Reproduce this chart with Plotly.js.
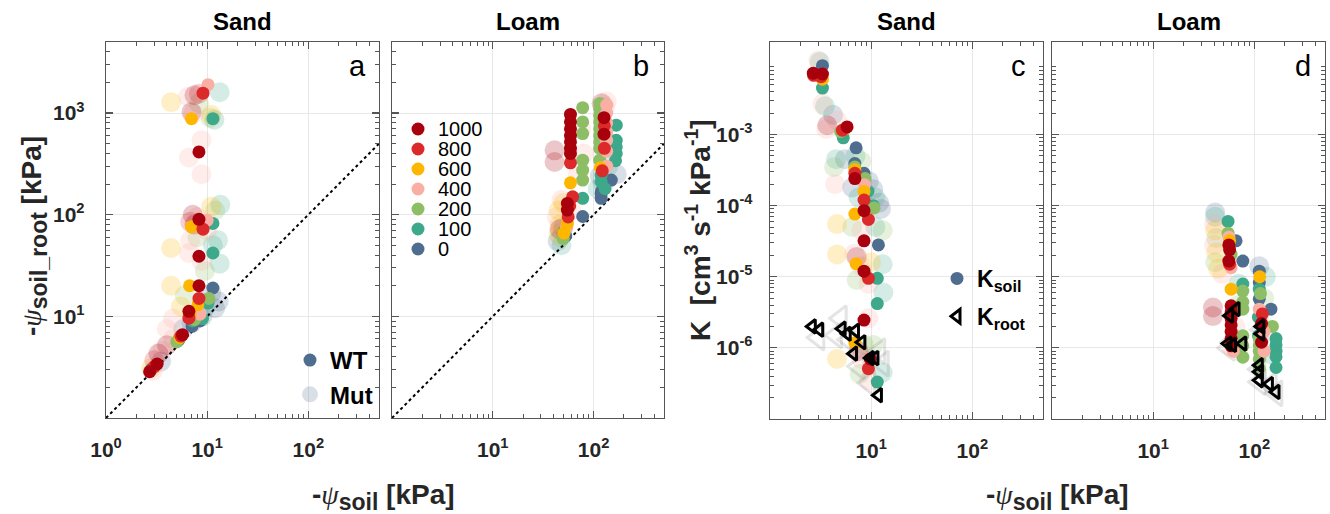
<!DOCTYPE html>
<html><head><meta charset="utf-8">
<script src="https://cdn.plot.ly/plotly-3.0.1.min.js"></script>
<style>html,body{margin:0;padding:0;background:#fff}#chart{width:1330px;height:514px}</style>
</head><body><div id="chart"></div>
<script>
// ---------- categories / colours ----------
const levels = [0, 100, 200, 400, 600, 800, 1000];
const levelColors = ['#4F6D8F', '#3DA88A', '#8DBE66', '#F9AFA3', '#FFB600', '#DC2A2A', '#A8000C'];
const legendOrder = [1000, 800, 600, 400, 200, 100, 0];
const panelTitles = ['Sand', 'Loam', 'Sand', 'Loam'];
const panelLetters = ['a', 'b', 'c', 'd'];

// ---------- tick labels ----------
const xTickValsA = [1, 10, 100];
const xTickTextA = ['10<sup>0</sup>', '10<sup>1</sup>', '10<sup>2</sup>'];
const xTickValsB = [10, 100];
const xTickTextB = ['10<sup>1</sup>', '10<sup>2</sup>'];
const yTickValsPsi = [10, 100, 1000];
const yTickTextPsi = ['10<sup>1</sup>', '10<sup>2</sup>', '10<sup>3</sup>'];
const yTickValsK = [1e-6, 1e-5, 1e-4, 1e-3];
const yTickTextK = ['10<sup>-6</sup>', '10<sup>-5</sup>', '10<sup>-4</sup>', '10<sup>-3</sup>'];

// 1:1 line
const diagX = [1, 500];
const diagY = [1, 500];

// ---------- panel a : Sand, psi_soil_root vs psi_soil ----------
const aWT_x = [9.1,10.2,7.0,11.4,8.3, 8.3,7.0,11.4,9.1,10.0, 8.3,11.4, 6.7,8.3,11.4,10.4,8.3,8.1,10.2,6.6,6.6,7.5,7.1,6.8,7.2,8.5,9.0,8.5, 5.7,5.5,5.4,5.3,5.2,5.0, 3.2,2.7,3.0,2.8];
const aWT_y = [1570,1900,880,880,415, 90,76,82,72,88, 39,42, 20,20,19,15,15,13,13.5,11.2,9.6,9.3,8.0,10.5,9.0,10.5,9.5,9.0, 6.6,6.4,6.2,6.0,5.8,5.6, 3.4,2.85,3.2,3.0];
const aWT_lv = [800,400,600,100,1000, 1000,600,100,800,400, 1000,100, 600,1000,0,200,800,600,100,1000,800,200,0,600,100,400,100,0, 1000,800,600,100,0,200, 1000,1000,800,0];
const aMut_x = [7.5,8.3,6.5,13.3,4.4,8.3,7.0,7.3,11,10.8,11.8,8.8,6.6,8.8, 7.2,6.8,7.5,12,13.5,11,8,8,10, 4.4,12.8,6.8,11.4,8.8,13.3,9.5,6.6, 4.4,6.0,5.5,11,13,12,9.5,4.6,4.0, 4.0,3.6,3.3,3.0,4.6,2.8,5.8,7,9,3.5,2.9];
const aMut_y = [1500,1550,1450,1600,1280,1250,1020,980,960,900,860,540,365,250, 100,85,80,110,125,120,95,60,70, 47,56,56,50,35,33,28,42, 20,16,12.5,17,14,12,12,9.5,7.5, 5.2,4.6,4.3,3.7,6.0,3.1,7.5,8.5,10,3.6,2.9];
const aMut_lv = [1000,800,400,100,600,200,1000,400,600,200,100,400,400,400, 1000,800,1000,200,100,600,400,200,400, 600,100,400,100,400,100,200,400, 600,200,600,0,0,0,100,400,400, 1000,400,1000,800,400,600,0,0,0,0,400];

// ---------- panel b : Loam ----------
const bWT_x = [59,59,59,59,59,59,59, 59,59, 78,78,78,78,78,78, 78,78, 55,55,62,55,58,56,52,53,50,54,51, 115,115,115,115,115,115,115,115,115, 135,135,135,135,135,135,135, 127,127,128,128, 168,168,168,168,165, 119,119,130, 150,119,119,120, 117,122];
const bWT_y = [970,820,700,600,520,450,400, 324,206, 1130,817,628,344,274,219, 145,96, 129,111,150,82,122,95,70,62,58,75,66, 1245,1100,950,820,700,600,520,450,344, 1200,1000,800,650,540,420,300, 900,620,750,450, 760,540,464,400,340, 245,210,180, 219,162,145,170, 290,270];
const bWT_lv = [1000,1000,1000,1000,1000,1000,1000, 800,600, 200,200,200,200,200,200, 100,0, 1000,1000,800,600,800,800,100,0,200,400,600, 200,200,200,200,200,200,200,200,200, 400,400,400,400,400,400,400, 1000,1000,800,800, 100,100,100,100,100, 100,100,100, 0,0,0,0, 600,800];
const bMut_x = [41,41,135,130,120, 48,45,50,43,46,45,44,48,47,46,50, 115,125,110,140,150,170, 60,70,80,75];
const bMut_y = [430,330,1300,1150,1250, 140,110,130,95,80,65,55,50,60,72,75, 240,200,180,300,500,250, 110,250,400,700];
const bMut_lv = [1000,1000,400,400,1000, 400,600,600,400,600,600,0,100,200,1000,0, 0,0,100,100,100,0, 400,400,400,400];

// ---------- panel c : Sand, K ----------
const cWT_x = [3.3,2.68,3.3,3.3,2.7,3.2,3.3, 5.78,5.2,5.3,5.5,5.0, 7.1,6.9,6.9,6.9,6.9,6.9, 8.5,8.7,8.6,8.5,9.3,8.5,10.7,10.5,8.5,6.9,9.4, 8.5,11.8,7.1,8.5,9.4,11.5,11.5, 8.5,6.9,9.8,9.4,11.5];
const cWT_y = [9.3e-3,7.3e-3,7.1e-3,6.0e-3,6.8e-3,6.5e-3,4.5e-3, 1.28e-3,1.15e-3,9e-4,1.2e-3,1.1e-3, 6.5e-4,3.9e-4,3.5e-4,3.2e-4,2.85e-4,2.4e-4, 2.85e-4,2.4e-4,1.96e-4,1.58e-4,1.6e-4,1.2e-4,9.3e-5,1.0e-4,8.5e-5,7.6e-5,6.4e-5, 3.2e-5,2.8e-5,1.53e-5,1.2e-5,9.5e-6,9.5e-6,4.2e-6, 2.46e-6,1.17e-6,7e-7,5.1e-7,3.3e-7];
const cWT_lv = [0,1000,1000,600,800,800,100, 1000,800,100,600,200, 0,0,200,600,800,1000, 0,200,400,600,100,800,200,100,1000,600,800, 1000,0,600,1000,800,100,100, 1000,600,1000,800,100];
const cMut_x = [3.0,3.1,3.3,3.5,3.68,3.6,4.6,4.2, 4.5,4.3,4.4,5.5,7,8,9.5,10.5,11,12,12.5,7.5,6.5,4.6,6.5,8,11,13, 4.6,7.2,6.8,8,10,13,7.2,9.4,13.2,9.4, 4.6,7.7,8.5,10.5,8,13,9.5,7.5];
const cMut_y = [1.1e-2,1.05e-2,2.7e-3,2.5e-3,1.35e-3,1.2e-3,1.58e-3,1.9e-3, 4.5e-4,3.5e-4,2.0e-4,4.5e-4,5e-4,4.2e-4,2.2e-4,1.7e-4,1.3e-4,1.1e-4,9e-5,1.3e-4,1.8e-4,5.5e-5,5e-5,4.5e-5,5e-5,4.5e-5, 2.06e-5,1.9e-5,2.1e-5,1.4e-5,1.6e-5,1.5e-5,9e-6,8e-6,6e-6,2.6e-6, 7e-7,4.3e-7,1.1e-6,1.1e-6,7e-7,4.5e-7,3.5e-7,9e-7];
const cMut_lv = [400,100,400,100,1000,400,400,0, 100,200,400,0,100,200,0,0,100,0,0,100,0,600,200,400,100,200, 600,1000,400,400,600,100,200,400,100,400, 600,200,200,200,400,100,400,1000];
const cRootWT_x = [2.62,3.1,5.16,5.8,7.0,8.1,6.7,9.8,10.9,11.8];
const cRootWT_y = [2.0e-6,1.8e-6,1.86e-6,1.58e-6,1.74e-6,1.2e-6,8.3e-7,7.2e-7,7.2e-7,2.16e-7];
const cRootMut_x = [3.0,5.0,6.0,7.5,12,13,9.5,4.5];
const cRootMut_y = [1.4e-6,2.6e-6,1.3e-6,5.5e-7,9e-7,6e-7,3.2e-7,1.5e-6];

// ---------- panel d : Loam, K ----------
const dWT_x = [55,55,56,57,56,57,59,56,59,57,66,77,77,77,59,77,77, 59,59,59,59,59,59,59, 77,77,77,62, 112,112,112,112,115,113,112,146,110,110, 112,112,112,112,112, 151, 164,164,164,164,164, 118,120,125,125,118];
const dWT_y = [6.0e-5,4.1e-5,3.6e-5,3.2e-5,2.8e-5,2.4e-5,2.06e-5,1.66e-5,1.34e-5,1.5e-5,3.2e-5,1.66e-5,7.9e-6,6.3e-6,6.7e-6,4.4e-6,3.5e-6, 3.9e-6,3.2e-6,2.6e-6,2.1e-6,1.7e-6,1.35e-6,1.07e-6, 1.48e-6,1.07e-6,7.4e-7,9e-7, 1.2e-5,8.3e-6,4.9e-6,6.7e-6,5.8e-6,1e-5,3.5e-6,3.5e-6,2.7e-6,1.48e-6, 1.35e-6,1.1e-6,9e-7,7e-7,5.1e-7, 2.0e-6, 1.35e-6,1.1e-6,9e-7,7.5e-7,5.3e-7, 2.2e-6,3e-6,1.7e-6,9e-7,1.2e-6];
const dWT_lv = [100,200,400,600,1000,1000,200,1000,400,800,0,0,100,200,600,200,200, 1000,1000,1000,1000,1000,1000,1000, 200,200,200,400, 0,0,0,100,200,600,400,0,100,100, 200,200,200,200,200, 200, 100,100,100,100,100, 1000,800,400,400,1000];
const dMut_x = [39,39,41,41,40,41,42,40,42,41,44,48,112,130,125,70,65,60,120,150,70];
const dMut_y = [3.7e-6,2.8e-6,8e-5,7e-5,5.5e-5,4.5e-5,3.5e-5,2.8e-5,2.2e-5,1.6e-5,1.3e-5,1.1e-5,1.4e-5,1e-5,5e-6,8e-6,2e-6,1e-6,1.5e-6,8e-7,4e-6];
const dMut_lv = [1000,1000,0,100,400,600,200,400,600,200,600,400,0,100,200,100,400,400,400,100,200];
const dRootWT_x = [66,57,55,61,77,116,116,112,112,112,141,164];
const dRootWT_y = [3.5e-6,2.84e-6,1.15e-6,1.1e-6,1.15e-6,2.0e-6,1.58e-6,5.7e-7,4.6e-7,3.5e-7,3.1e-7,2.4e-7];
const dRootMut_x = [56,60,112,113,145,165,118];
const dRootMut_y = [1.0e-6,1.2e-6,5e-7,3.3e-7,3e-7,2.3e-7,1.8e-6];

// ================= build =================
const W = 1330, H = 514;
const px = v => v / W, py = v => 1 - v / H;
const FONT = 'Liberation Sans, Arial, Helvetica, sans-serif';
const INK = '#262626';

function levelTraces(xs, ys, lvs, xa, ya, mut, legendSpec) {
  return levels.map((lv, i) => {
    const idx = [];
    lvs.forEach((v, k) => { if (v === lv) idx.push(k); });
    const t = {
      type: 'scatter', mode: 'markers',
      x: idx.map(k => xs[k]), y: idx.map(k => ys[k]),
      xaxis: xa, yaxis: ya, hoverinfo: 'skip', showlegend: false,
      marker: { size: mut ? 20 : 13, color: levelColors[i], opacity: mut ? 0.22 : 1, line: { width: 0 } }
    };
    if (legendSpec && lv === 0) Object.assign(t, legendSpec, { showlegend: true });
    return t;
  });
}
function rootTraces(xs, ys, xa, ya, mut, legendSpec) {
  const t = {
    type: 'scatter', mode: 'markers', x: xs, y: ys, xaxis: xa, yaxis: ya,
    hoverinfo: 'skip', showlegend: false,
    marker: mut ? { symbol: 'triangle-left-open', size: 22, color: 'rgba(130,130,130,0.22)', line: { width: 3, color: 'rgba(130,130,130,0.22)' } }
                : { symbol: 'triangle-left-open', size: 12, color: '#000', line: { width: 3, color: '#000' } }
  };
  if (legendSpec) Object.assign(t, legendSpec, { showlegend: true });
  return t;
}
const diag = (xa, ya) => ({ type: 'scatter', mode: 'lines', x: diagX, y: diagY, xaxis: xa, yaxis: ya,
  hoverinfo: 'skip', showlegend: false, line: { color: '#000', width: 2, dash: 'dot' } });

const data = [].concat(
  levelTraces(aMut_x, aMut_y, aMut_lv, 'x', 'y', true, { name: 'Mut', legend: 'legend2' }),
  [diag('x', 'y')],
  levelTraces(aWT_x, aWT_y, aWT_lv, 'x', 'y', false, { name: 'WT', legend: 'legend2' }),
  levelTraces(bMut_x, bMut_y, bMut_lv, 'x2', 'y2', true),
  [diag('x2', 'y2')],
  levelTraces(bWT_x, bWT_y, bWT_lv, 'x2', 'y2', false),
  levelTraces(cMut_x, cMut_y, cMut_lv, 'x3', 'y3', true),
  [rootTraces(cRootMut_x, cRootMut_y, 'x3', 'y3', true)],
  levelTraces(cWT_x, cWT_y, cWT_lv, 'x3', 'y3', false, { name: '<b>K<sub>soil</sub></b>', legend: 'legend3', legendgroup: 'ks' }),
  [rootTraces(cRootWT_x, cRootWT_y, 'x3', 'y3', false, { name: '<b>K<sub>root</sub></b>', legend: 'legend3', legendgroup: 'kr' })],
  levelTraces(dMut_x, dMut_y, dMut_lv, 'x4', 'y4', true),
  [rootTraces(dRootMut_x, dRootMut_y, 'x4', 'y4', true)],
  levelTraces(dWT_x, dWT_y, dWT_lv, 'x4', 'y4', false),
  [rootTraces(dRootWT_x, dRootWT_y, 'x4', 'y4', false)]
);

function minorVals(lo, hi) {
  const out = [];
  for (let d = lo; d < hi; d++) for (let m = 2; m <= 9; m++) out.push(m * Math.pow(10, d));
  return out;
}
function logAxis(domain, range, tickvals, ticktext, anchor, minor, extra) {
  return Object.assign({
    type: 'log', domain: domain, range: range, anchor: anchor,
    tickmode: 'array', tickvals: tickvals, ticktext: ticktext,
    showline: true, linecolor: '#555', linewidth: 1.3, mirror: 'allticks',
    ticks: 'inside', ticklen: 7, tickwidth: 1.2, tickcolor: '#555',
    showgrid: true, gridcolor: '#e8e8e8', gridwidth: 1, zeroline: false,
    tickfont: { family: FONT, size: 21, color: INK, weight: 'bold' },
    ticklabelstandoff: 12,
    minor: { tickmode: 'array', tickvals: minor, ticks: 'inside', ticklen: 4, tickwidth: 1, tickcolor: '#555', showgrid: false },
    fixedrange: true
  }, extra || {});
}
const xr = [0, Math.log10(500)];
const yrPsi = [0, Math.log10(5000)];
const yrK = [-7, Math.log10(0.02)];
const dA = [px(106), px(379)], dB = [px(392), px(664)], dC = [px(770), px(1043)], dD = [px(1052), px(1325)];
const dYa = [py(418), py(42)], dYc = [py(419), py(42)];

const layout = {
  width: W, height: H, margin: { l: 0, r: 0, t: 0, b: 0 },
  paper_bgcolor: '#fff', plot_bgcolor: '#fff', showlegend: true, hovermode: false,
  xaxis: logAxis(dA, xr, xTickValsA, xTickTextA, 'y', minorVals(0, 3)),
  yaxis: logAxis(dYa, yrPsi, yTickValsPsi, yTickTextPsi, 'x', minorVals(0, 4), { ticklabelstandoff: 16 }),
  xaxis2: logAxis(dB, xr, xTickValsB, xTickTextB, 'y2', minorVals(0, 3)),
  yaxis2: logAxis(dYa, yrPsi, yTickValsPsi, yTickTextPsi, 'x2', minorVals(0, 4), { showticklabels: false }),
  xaxis3: logAxis(dC, xr, xTickValsB, xTickTextB, 'y3', minorVals(0, 3)),
  yaxis3: logAxis(dYc, yrK, yTickValsK, yTickTextK, 'x3', minorVals(-7, -1)),
  xaxis4: logAxis(dD, xr, xTickValsB, xTickTextB, 'y4', minorVals(0, 3)),
  yaxis4: logAxis(dYc, yrK, yTickValsK, yTickTextK, 'x4', minorVals(-7, -1), { showticklabels: false }),
  legend2: { x: px(290), y: py(338), xanchor: 'left', yanchor: 'top', bgcolor: 'rgba(0,0,0,0)',
    font: { family: FONT, size: 24, color: '#000', weight: 'bold' }, traceorder: 'reversed' },
  legend3: { x: px(937), y: py(257), xanchor: 'left', yanchor: 'top', bgcolor: 'rgba(0,0,0,0)',
    font: { family: FONT, size: 23, color: '#000' }, tracegroupgap: 5 },
  annotations: [], shapes: []
};

// panel titles & letters
const centers = [(106 + 379) / 2, (392 + 664) / 2, (770 + 1043) / 2, (1052 + 1325) / 2];
const letterX = [357, 641, 1018, 1303];
panelTitles.forEach((t, i) => {
  layout.annotations.push({ text: '<b>' + t + '</b>', x: px(centers[i]), y: py(22), xref: 'paper', yref: 'paper',
    xanchor: 'center', yanchor: 'middle', showarrow: false, font: { family: FONT, size: 24, color: '#000' } });
  layout.annotations.push({ text: panelLetters[i], x: px(letterX[i]), y: py(66), xref: 'paper', yref: 'paper',
    xanchor: 'center', yanchor: 'middle', showarrow: false, font: { family: FONT, size: 29, color: '#000' } });
});

// axis titles
const psi = '<span style="font-family:\'Liberation Serif\',serif;font-style:italic;font-weight:normal">ψ</span>';
const titleFont = { family: FONT, size: 28, color: INK };
const psiSoil = '<b>-</b>' + psi + '<sub><b><span style="font-size:23px">soil</span></b></sub><b> [kPa]</b>';
layout.annotations.push({ text: psiSoil, x: px(383), y: py(497), xref: 'paper', yref: 'paper',
  xanchor: 'center', yanchor: 'middle', showarrow: false, font: titleFont });
layout.annotations.push({ text: psiSoil, x: px(1057), y: py(497), xref: 'paper', yref: 'paper',
  xanchor: 'center', yanchor: 'middle', showarrow: false, font: titleFont });
layout.annotations.push({ text: '<b>-</b>' + psi + '<sub><b><span style="font-size:23px">soil_root</span></b></sub><b> [kPa]</b>',
  x: px(34), y: py(236), xref: 'paper', yref: 'paper', xanchor: 'center', yanchor: 'middle',
  showarrow: false, textangle: -90, font: titleFont });
layout.annotations.push({ text: '<b>K\u00a0\u00a0[cm<sup>3</sup> s<sup>-1</sup> kPa<sup>-1</sup>]</b>',
  x: px(698), y: py(230), xref: 'paper', yref: 'paper', xanchor: 'center', yanchor: 'middle',
  showarrow: false, textangle: -90, font: titleFont });

// colour legend (panel b)
legendOrder.forEach((lv, i) => {
  const cy = 129 + i * 20;
  const col = levelColors[levels.indexOf(lv)];
  layout.shapes.push({ type: 'circle', xref: 'paper', yref: 'paper', x0: px(411.5), x1: px(424.5), y0: py(cy + 6.5), y1: py(cy - 6.5),
    fillcolor: col, line: { width: 0 } });
  layout.annotations.push({ text: String(lv), x: px(436), y: py(cy), xref: 'paper', yref: 'paper', xanchor: 'left', yanchor: 'middle',
    showarrow: false, font: { family: FONT, size: 20, color: '#000' } });
});

Plotly.newPlot('chart', data, layout, { staticPlot: true, displayModeBar: false });
</script></body></html>
